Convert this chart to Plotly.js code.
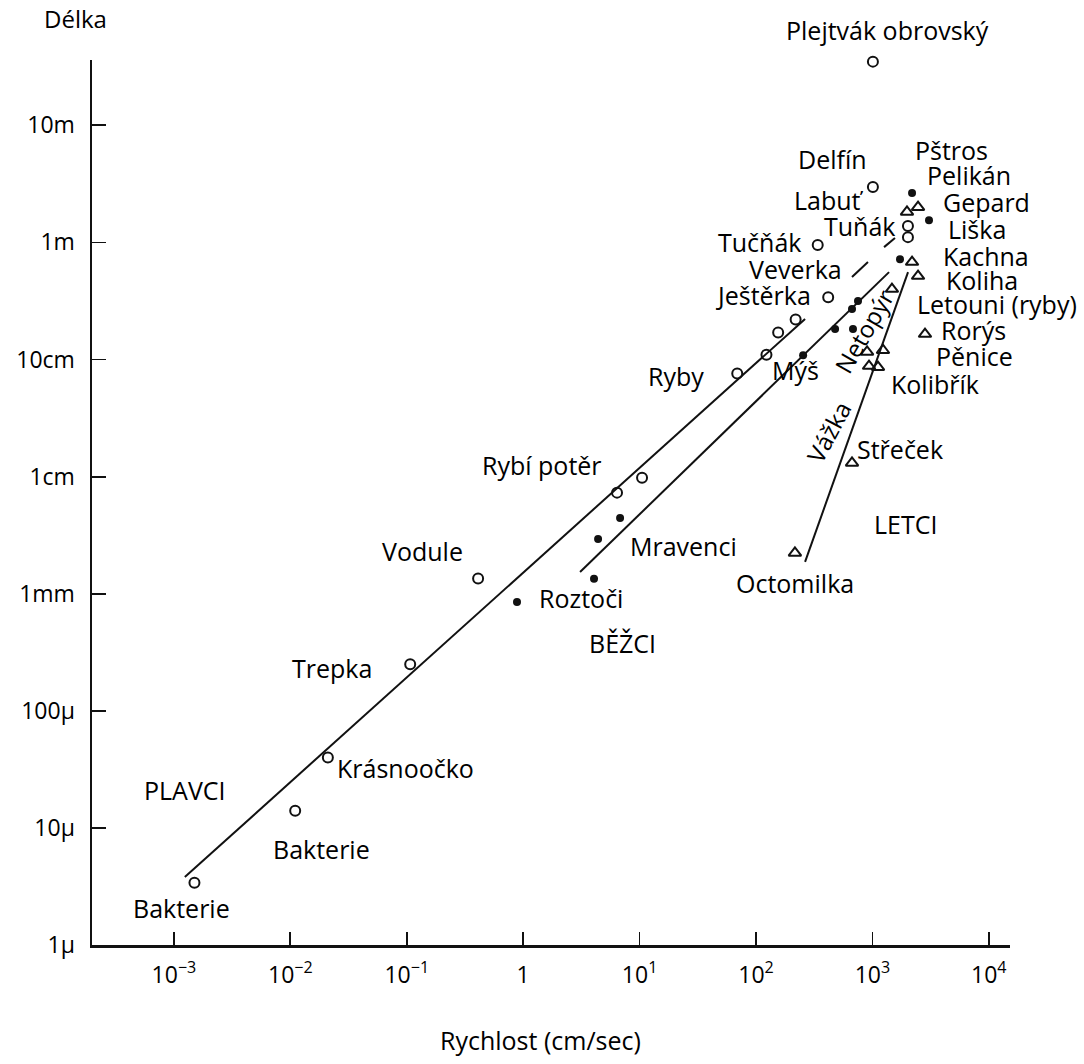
<!DOCTYPE html>
<html>
<head>
<meta charset="utf-8">
<script src="https://cdn.plot.ly/plotly-3.0.1.min.js"></script>
<style>html,body{margin:0;padding:0;background:#fff;}#chart{width:1084px;height:1064px;}</style>
</head>
<body>
<div id="chart"></div>
<script>
// Speeds in cm/s, lengths in metres
// PLAVCI (swimmers) – open circles
const swimSpeed  = [0.0015, 0.011, 0.021, 0.107, 0.41, 6.4, 10.5, 69, 123, 155, 219, 417, 339, 1010, 2020, 2020, 1010];
const swimLength = [3.4e-6, 1.4e-5, 4.0e-5, 2.5e-4, 1.35e-3, 7.3e-3, 9.8e-3, 0.076, 0.11, 0.17, 0.22, 0.34, 0.95, 2.97, 1.38, 1.11, 35];
// BĚŽCI (runners) – filled dots
const runSpeed  = [0.885, 4.06, 4.4, 6.8, 254, 478, 681, 668, 752, 1726, 2190, 3063];
const runLength = [8.5e-4, 1.34e-3, 2.93e-3, 4.43e-3, 0.109, 0.182, 0.182, 0.27, 0.316, 0.72, 2.64, 1.55];
// LETCI (flyers) – open triangles
const flySpeed  = [216, 668, 900, 1233, 935, 1117, 2830, 1472, 2466, 2190, 1982, 2466];
const flyLength = [2.23e-3, 0.0131, 0.116, 0.12, 0.088, 0.086, 0.165, 0.40, 0.516, 0.68, 1.82, 2.0];
// Trend lines
const swimLineSpeed = [0.00124, 264];
const swimLineLength = [3.8e-6, 0.222];
const swimDashSpeed = [668, 916, null, 1259, 1563];
const swimDashLength = [0.506, 0.68, null, 0.912, 1.09];
const runLineSpeed = [3.08, 1390];
const runLineLength = [1.53e-3, 0.558];
const flyLineSpeed = [264, 2023];
const flyLineLength = [1.87e-3, 0.558];
// Axis ticks
const xTickVals = [1e-3, 1e-2, 1e-1, 1, 10, 100, 1000, 10000];
const xTickText = ['10<sup>−3</sup>','10<sup>−2</sup>','10<sup>−1</sup>','1','10<sup>1</sup>','10<sup>2</sup>','10<sup>3</sup>','10<sup>4</sup>'];
const yTickVals = [1e-6, 1e-5, 1e-4, 1e-3, 1e-2, 1e-1, 1, 10];
const yTickText = ['1μ','10μ','100μ','1mm','1cm','10cm','1m','10m'];
// Label texts
const labelTexts = ['Plejtvák obrovský','Delfín','Pštros','Pelikán','Labuť','Gepard','Tuňák','Liška','Tučňák','Kachna','Veverka','Koliha','Ještěrka','Letouni (ryby)','Rorýs','Ryby','Mýš','Pěnice','Kolibřík','Střeček','Rybí potěr','LETCI','Vodule','Mravenci','Octomilka','Roztoči','BĚŽCI','Trepka','Krásnoočko','PLAVCI','Bakterie','Bakterie'];
</script>
<script>
const W = 1084, H = 1064;
const L = 92, R = 74, T = 60, B = 119;
const pw = W - L - R, ph = H - T - B;
// label placement (pixel centres on the page)
const labelPos = [
  [887,30],[832,159],[951,150],[969,175],[829,200],[986,202],[859,226],[977,229],
  [759,242],[986,256],[795,269],[982,280],[763,295],[997,304],[973,330],[676,376],
  [795,370],[974,356],[935,384],[900,449],[542,465],[905,524],[422,551],[683,546],
  [795,583],[581,598],[622,643],[332,668],[405,768],[185,790],[321,849],[181,908]
];
const fontFam = '"Open Sans", "Noto Sans", sans-serif';
const annotations = labelTexts.map((t, i) => ({
  text: t, xref: 'paper', yref: 'paper',
  x: (labelPos[i][0] - L) / pw, y: (H - B - labelPos[i][1]) / ph,
  xanchor: 'center', yanchor: 'middle', showarrow: false,
  font: {family: fontFam, size: 25, color: '#000'}
}));
annotations.push({text: 'Netopýr', xref:'paper', yref:'paper', x:(864-L)/pw, y:(H-B-332)/ph,
  xanchor:'center', yanchor:'middle', showarrow:false, textangle:-60,
  font:{family:fontFam, size:24, color:'#000'}});
annotations.push({text: 'Vážka', xref:'paper', yref:'paper', x:(828-L)/pw, y:(H-B-432)/ph,
  xanchor:'center', yanchor:'middle', showarrow:false, textangle:-62,
  font:{family:fontFam, size:24, color:'#000'}});
annotations.push({text: 'Délka', xref:'paper', yref:'paper', x:(75-L)/pw, y:(H-B-18)/ph,
  xanchor:'center', yanchor:'middle', showarrow:false,
  font:{family:fontFam, size:24, color:'#000'}});
annotations.push({text: 'Rychlost (cm/sec)', xref:'paper', yref:'paper', x:(540-L)/pw, y:(H-B-1040)/ph,
  xanchor:'center', yanchor:'middle', showarrow:false,
  font:{family:fontFam, size:25, color:'#000'}});

const lineStyle = {color: '#111', width: 2};
const traces = [
  {x: swimLineSpeed, y: swimLineLength, mode: 'lines', line: lineStyle, hoverinfo: 'skip'},
  {x: swimDashSpeed, y: swimDashLength, mode: 'lines', line: lineStyle, connectgaps: false, hoverinfo: 'skip'},
  {x: runLineSpeed, y: runLineLength, mode: 'lines', line: lineStyle, hoverinfo: 'skip'},
  {x: flyLineSpeed, y: flyLineLength, mode: 'lines', line: lineStyle, hoverinfo: 'skip'},
  {x: swimSpeed, y: swimLength, mode: 'markers', cliponaxis: false, name: 'PLAVCI',
   marker: {symbol: 'circle-open', size: 10, color: '#111', line: {width: 2, color: '#111'}}},
  {x: runSpeed, y: runLength, mode: 'markers', cliponaxis: false, name: 'BĚŽCI',
   marker: {symbol: 'circle', size: 8, color: '#111'}},
  {x: flySpeed, y: flyLength, mode: 'markers', cliponaxis: false, name: 'LETCI',
   marker: {symbol: 'triangle-up-open', size: 11, color: '#111', line: {width: 2, color: '#111'}}}
];

const layout = {
  width: W, height: H,
  margin: {l: L, r: R, t: T, b: B, pad: 0},
  paper_bgcolor: '#fff', plot_bgcolor: '#fff',
  showlegend: false,
  font: {family: fontFam, color: '#000'},
  xaxis: {
    type: 'log', range: [-3.704, 4.182], showgrid: false, zeroline: false,
    showline: true, linecolor: '#111', linewidth: 2.5,
    ticks: 'inside', ticklen: 13, tickwidth: 1.8, tickcolor: '#111',
    tickvals: xTickVals, ticktext: xTickText, ticklabelstandoff: 8,
    tickfont: {family: fontFam, size: 23, color: '#000'}
  },
  yaxis: {
    type: 'log', range: [-6, 1.558], showgrid: false, zeroline: false,
    showline: true, linecolor: '#111', linewidth: 2.5,
    ticks: 'inside', ticklen: 14, tickwidth: 1.8, tickcolor: '#111',
    tickvals: yTickVals, ticktext: yTickText, ticklabelstandoff: 10,
    tickfont: {family: fontFam, size: 23, color: '#000'}
  },
  annotations: annotations
};
Plotly.newPlot('chart', traces, layout, {displayModeBar: false, staticPlot: true});
</script>
</body>
</html>
